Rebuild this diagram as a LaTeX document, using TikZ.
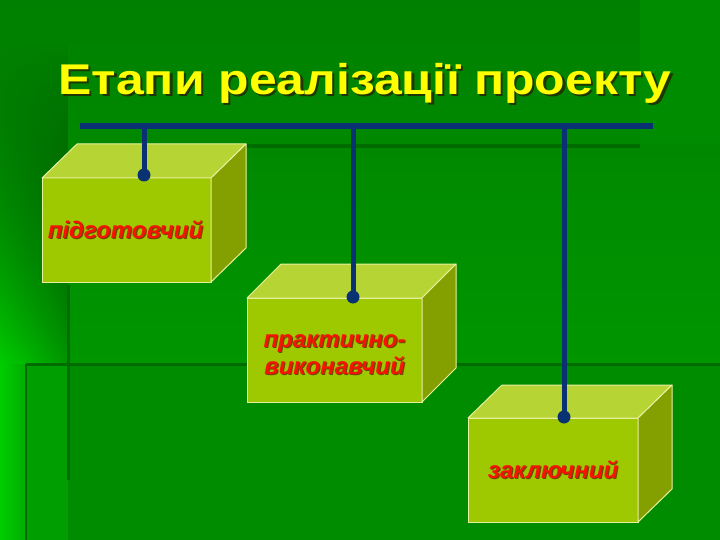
\documentclass[tikz,border=0pt]{standalone}
\usepackage{fontspec}
\setmainfont{Liberation Sans}
\usetikzlibrary{fadings}
\definecolor{bgA}{RGB}{0,128,0}
\definecolor{bgB}{RGB}{0,150,0}
\definecolor{bgC}{RGB}{0,140,0}
\definecolor{bgD}{RGB}{0,158,0}
\definecolor{bgTR}{RGB}{0,140,0}
\definecolor{bgLine}{RGB}{0,108,0}
\definecolor{brightG}{RGB}{0,205,0}
\definecolor{navy}{RGB}{10,50,115}
\definecolor{faceF}{RGB}{158,200,0}
\definecolor{faceT}{RGB}{182,212,52}
\definecolor{faceS}{RGB}{132,160,0}
\definecolor{edgeC}{RGB}{232,240,160}
\definecolor{titleY}{RGB}{255,255,0}
\definecolor{lblR}{RGB}{245,20,0}
\definecolor{shadowD}{RGB}{30,55,0}
\definecolor{shadowL}{RGB}{110,70,0}
\tikzfading[name=upfade, top color=transparent!100, bottom color=transparent!0]
\newcommand\shadowtext[3]{\makebox[0pt][l]{\hspace{#3}\raisebox{-#3}{\textcolor{#1}{#2}}}#2}
\tikzset{
  front/.style={draw=edgeC, line width=1pt, fill=faceF, inner sep=0pt, outer sep=0pt},
  topface/.style={draw=edgeC, line width=1pt, fill=faceT, line join=round},
  sideface/.style={draw=edgeC, line width=1pt, fill=faceS, line join=round},
  bar/.style={draw=navy, line width=6pt},
  stem/.style={draw=navy, line width=5pt},
  hookdot/.style={circle, fill=navy, minimum size=13pt, inner sep=0pt},
  titletext/.style={inner sep=0pt, anchor=base, text=titleY, font=\fontsize{43}{50}\selectfont\bfseries},
  lbltext/.style={inner sep=0pt, text=lblR, font=\fontsize{24}{27}\selectfont\bfseries\itshape, align=center},
  bgline/.style={draw=bgLine, line width=3pt}
}
\begin{document}
\begin{tikzpicture}[x=1pt,y=1pt]
\useasboundingbox (0,0) rectangle (720,-540);
% background
\fill[top color=bgA, bottom color=bgB] (0,0) rectangle (720,-364);
\fill[bgTR] (640,0) rectangle (720,-143);
\fill[bgC] (26,-364) rectangle (720,-540);
\fill[bgD] (26,-364) rectangle (68,-540);
\fill[left color=brightG, right color=bgB, path fading=upfade] (0,-40) rectangle (68,-364);
\fill[left color=brightG, right color=bgD!70!brightG] (0,-364) rectangle (26,-540);
\draw[bgline] (26,-364) -- (720,-364);
\draw[bgline, line width=2pt] (26,-364) -- (26,-540);
\draw[bgline] (68,-285) -- (68,-480);
\draw[bgline, line width=4pt] (200,-146) -- (640,-146);
% title
\node[titletext] (title) at (365,-95) {\scalebox{1.16}[1]{\shadowtext{shadowD}{Етапи реалізації проекту}{2pt}}};
% box 1
\node[front, minimum width=169pt, minimum height=104pt] (box1) at (126.5,-230) {};
\filldraw[topface] (box1.north west) -- ++(35,34) -- ++(169,0) -- (box1.north east) -- cycle;
\filldraw[sideface] (box1.north east) -- ++(35,34) -- ++(0,-104) -- (box1.south east) -- cycle;
% box 2
\node[front, minimum width=175pt, minimum height=104pt] (box2) at (334.5,-350) {};
\filldraw[topface] (box2.north west) -- ++(34,34) -- ++(175,0) -- (box2.north east) -- cycle;
\filldraw[sideface] (box2.north east) -- ++(34,34) -- ++(0,-104) -- (box2.south east) -- cycle;
% box 3
\node[front, minimum width=170pt, minimum height=104pt] (box3) at (553,-470) {};
\filldraw[topface] (box3.north west) -- ++(34,33) -- ++(170,0) -- (box3.north east) -- cycle;
\filldraw[sideface] (box3.north east) -- ++(34,33) -- ++(0,-104) -- (box3.south east) -- cycle;
% labels
\node[lbltext, anchor=base] (l1) at (125.5,-238) {\shadowtext{shadowL}{підготовчий}{1.2pt}};
\node[lbltext] (l2) at (334.5,-355) {\shadowtext{shadowL}{практично-}{1.2pt}\\\shadowtext{shadowL}{виконавчий}{1.2pt}};
\node[lbltext, anchor=base] (l3) at (553,-478) {\shadowtext{shadowL}{заключний}{1.2pt}};
% hanger
\coordinate (barL) at (80,-126);
\coordinate (barR) at (653,-126);
\coordinate (s1) at (144,-126);
\coordinate (s2) at (353,-126);
\coordinate (s3) at (564,-126);
\node[hookdot] (d1) at (144,-175) {};
\node[hookdot] (d2) at (353,-297) {};
\node[hookdot] (d3) at (564,-417) {};
\draw[stem] (s1) -- (d1.center);
\draw[stem] (s2) -- (d2.center);
\draw[stem] (s3) -- (d3.center);
\draw[bar] (barL) -- (barR);
\end{tikzpicture}
\end{document}
